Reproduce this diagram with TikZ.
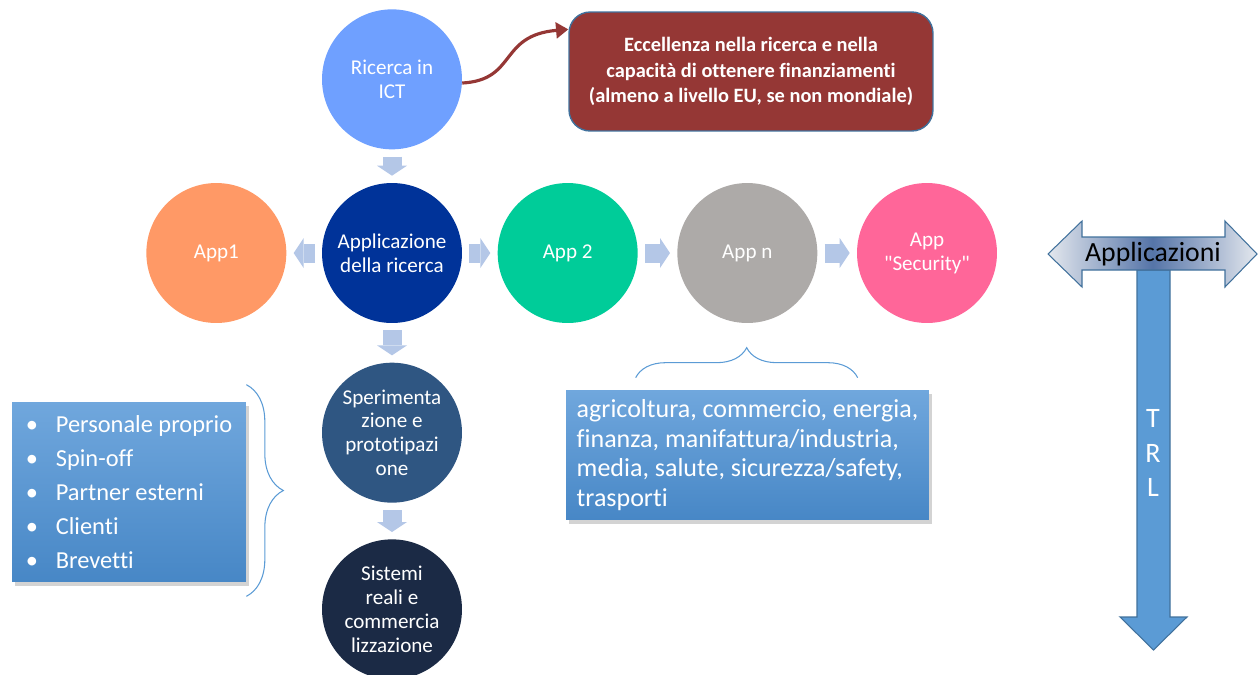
\documentclass[tikz,border=0pt]{standalone}
\usepackage{fontspec}
\setmainfont{Carlito}[Ligatures={NoCommon}]
\usetikzlibrary{arrows.meta, positioning, calc, shadows, decorations.pathreplacing}

% palette
\definecolor{ictblue}{HTML}{6FA0FF}
\definecolor{appldark}{HTML}{003399}
\definecolor{apporange}{HTML}{FF9966}
\definecolor{appgreen}{HTML}{00CC99}
\definecolor{appgray}{HTML}{ADAAA8}
\definecolor{apppink}{HTML}{FF6699}
\definecolor{speriblue}{HTML}{2F5682}
\definecolor{sistnavy}{HTML}{1B2A45}
\definecolor{flowblue}{HTML}{B4C7E7}
\definecolor{excelred}{HTML}{953735}
\definecolor{edgeblue}{HTML}{41719C}
\definecolor{paneltop}{HTML}{70A7DD}
\definecolor{panelbot}{HTML}{4787C6}
\definecolor{braceblue}{HTML}{5B9BD5}
\definecolor{trlblue}{HTML}{5B9BD5}
\definecolor{barend}{HTML}{E4E8EE}
\definecolor{barmid}{HTML}{5574A8}

\newcommand{\blt}{\makebox[0.6cm][l]{\textbullet}}

\tikzset{
  bubble/.style={circle, minimum size=2.8cm, inner sep=0pt, align=center, text=white, fill=#1, font=\fontsize{12}{13.6}\selectfont},
  flow/.style={draw=flowblue, line width=0.38cm, -{Triangle[length=0.2cm, width=0.6cm, line width=0pt]}, shorten <=0.14cm, shorten >=0.14cm},
  link/.style={draw=excelred, line width=1.8pt, -{Triangle[length=7pt, width=9pt]}},
  panel/.style={rectangle, top color=paneltop, bottom color=panelbot, text=white, align=left,
    drop shadow={shadow xshift=1.5pt, shadow yshift=-2pt, opacity=0.35}},
  curly/.style={draw=braceblue, line width=0.6pt, decorate, decoration={brace, amplitude=#1}},
}

\begin{document}
\begin{tikzpicture}[x=0.02cm, y=-0.02cm]
  \useasboundingbox (0,0) rectangle (1258,674);

  % main chain of circles
  \node[bubble=appldark] (appl) at (392,253) {Applicazione\\della ricerca};
  \node[bubble=ictblue, above=0.66cm of appl] (ict) {Ricerca in\\ICT};
  \node[bubble=apporange, left=0.7cm of appl] (app1) {App1};
  \node[bubble=appgreen, right=0.7cm of appl] (app2) {App 2};
  \node[bubble=appgray, right=0.78cm of app2] (appn) {App n};
  \node[bubble=apppink, right=0.78cm of appn] (appsec) {App\\\textquotedbl Security\textquotedbl};
  \node[bubble=speriblue, below=0.78cm of appl] (speri) {Sperimenta\\zione e\\prototipazi\\one};
  \node[bubble=sistnavy, below=0.72cm of speri] (sistemi) {Sistemi\\reali e\\commercia\\lizzazione};

  % block arrows between circles
  \draw[flow] (ict) -- (appl);
  \draw[flow] (appl) -- (app1);
  \draw[flow] (appl) -- (app2);
  \draw[flow] (app2) -- (appn);
  \draw[flow] (appn) -- (appsec);
  \draw[flow] (appl) -- (speri);
  \draw[flow] (speri) -- (sistemi);

  % excellence box
  \node[rectangle, rounded corners=12pt, fill=excelred, draw=edgeblue, line width=0.8pt,
        minimum width=7.28cm, minimum height=2.38cm, text=white, align=center,
        font=\bfseries\fontsize{11.6}{14.5}\selectfont] (excel) at (751,71.5)
        {Eccellenza nella ricerca e nella\\capacit\`a di ottenere finanziamenti\\(almeno a livello EU, se non mondiale)};
  \draw[link] (ict.-3) .. controls +(55,-3) and +(-70,6) .. (excel.167);

  % application sectors
  \node[panel, minimum width=7.26cm, minimum height=2.6cm, font=\fontsize{14.8}{17}\selectfont] (settori) at (747.5,455)
        {agricoltura, commercio, energia,\\finanza, manifattura/industria,\\media, salute, sicurezza/safety,\\trasporti};
  \draw[curly=0.6cm] ($(settori.north west)+(70,-12)$) -- ($(settori.north west)+(292,-12)$);

  % resources list
  \node[panel, minimum width=4.68cm, minimum height=3.6cm, font=\fontsize{13.9}{19.4}\selectfont] (risorse) at (129,492)
        {\blt Personale proprio\\\blt Spin-off\\\blt Partner esterni\\\blt Clienti\\\blt Brevetti};
  \draw[curly=0.74cm] ($(risorse.north east)+(0,-17)$) -- ($(risorse.south east)+(0,14)$);

  % TRL axis
  \draw[fill=trlblue, draw=edgeblue, line width=0.6pt]
    (1137,270) -- (1170,270) -- (1170,617) -- (1187,617) -- (1153.5,650) -- (1120,617) -- (1137,617) -- cycle;
  \draw[left color=barend, right color=barend, middle color=barmid, draw=edgeblue, line width=0.6pt]
    (1048,254) -- (1082,221) -- (1082,237) -- (1225,237) -- (1225,221) -- (1257,254)
    -- (1225,287) -- (1225,270) -- (1082,270) -- (1082,287) -- cycle;
  \node[font=\fontsize{15.8}{18}\selectfont] (appbar) at (1153,254) {Applicazioni};
  \node[align=center, text=white, font=\fontsize{16}{19.8}\selectfont] (trl) at (1153,453) {T\\R\\L};
\end{tikzpicture}
\end{document}
